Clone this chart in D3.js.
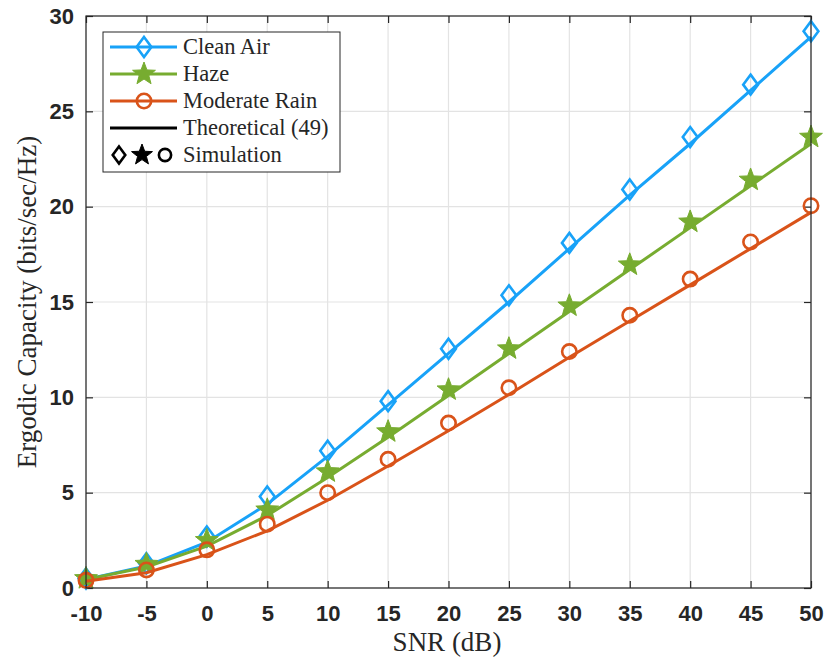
<!DOCTYPE html>
<html>
<head>
<meta charset="utf-8">
<script src="https://cdn.jsdelivr.net/npm/d3@7"></script>
<style>
  body { margin: 0; background: #fff; }
  .tick text { font-family: "Liberation Sans", Arial, sans-serif; font-weight: bold; font-size: 22px; fill: #262626; }
  .lbl { font-family: "Liberation Serif", "DejaVu Serif", serif; fill: #262626; }
</style>
</head>
<body>
<div class="chart"></div>
<script>
// SNR in dB
const snr = [-10, -5, 0, 5, 10, 15, 20, 25, 30, 35, 40, 45, 50];

// theoretical curves
const cleanTheory = [0.45, 1.15, 2.4, 4.4, 6.9, 9.6, 12.3, 15.0, 17.8, 20.6, 23.3, 26.1, 28.9];
const hazeTheory = [0.45, 1.1, 2.2, 3.8, 5.8, 7.9, 10.1, 12.3, 14.5, 16.7, 18.9, 21.1, 23.3];
const rainTheory = [0.35, 0.8, 1.75, 3.0, 4.6, 6.4, 8.25, 10.15, 12.1, 14.0, 15.9, 17.8, 19.7];

// simulation points
const cleanSim = [0.5, 1.3, 2.7, 4.8, 7.2, 9.8, 12.55, 15.35, 18.1, 20.9, 23.65, 26.4, 29.2];
const hazeSim = [0.5, 1.25, 2.5, 4.1, 6.1, 8.2, 10.4, 12.55, 14.8, 16.95, 19.2, 21.4, 23.65];
const rainSim = [0.4, 0.95, 2.0, 3.35, 5.0, 6.75, 8.65, 10.5, 12.4, 14.3, 16.2, 18.15, 20.05];

const xTicks = [-10, -5, 0, 5, 10, 15, 20, 25, 30, 35, 40, 45, 50];
const yTicks = [0, 5, 10, 15, 20, 25, 30];

const series = [
  {name: 'Clean Air', color: '#18a2f8', marker: 'diamond', theory: cleanTheory, sim: cleanSim},
  {name: 'Haze', color: '#77ac30', marker: 'star', theory: hazeTheory, sim: hazeSim},
  {name: 'Moderate Rain', color: '#d95319', marker: 'circle', theory: rainTheory, sim: rainSim}
];

const W = 827, H = 663;
const margin = {top: 16, right: 16, bottom: 75, left: 86};
const width = W - margin.left - margin.right;
const height = H - margin.top - margin.bottom;

const svg = d3.select('.chart').append('svg')
    .attr('width', W)
    .attr('height', H);
const g = svg.append('g')
    .attr('transform', `translate(${margin.left},${margin.top})`);

const x = d3.scaleLinear().domain([-10, 50]).range([0, width]);
const y = d3.scaleLinear().domain([0, 30]).range([height, 0]);

// grid
g.append('g').selectAll('line').data(xTicks).join('line')
    .attr('x1', d => x(d)).attr('x2', d => x(d))
    .attr('y1', 0).attr('y2', height)
    .attr('stroke', '#e3e3e3').attr('stroke-width', 1.2);
g.append('g').selectAll('line').data(yTicks).join('line')
    .attr('y1', d => y(d)).attr('y2', d => y(d))
    .attr('x1', 0).attr('x2', width)
    .attr('stroke', '#e3e3e3').attr('stroke-width', 1.2);

// axes (ticks pointing inward)
const styleAxis = function (sel) {
  sel.select('.domain').remove();
  sel.selectAll('.tick line').attr('stroke', '#262626').attr('stroke-width', 1.2);
};
const fmt = d => String(d);
g.append('g')
    .attr('transform', `translate(0,${height})`)
    .call(d3.axisBottom(x).tickValues(xTicks).tickSizeInner(-7).tickSizeOuter(0).tickPadding(17).tickFormat(fmt))
    .call(styleAxis);
g.append('g')
    .call(d3.axisTop(x).tickValues(xTicks).tickSizeInner(-7).tickSizeOuter(0).tickFormat(''))
    .call(styleAxis);
g.append('g')
    .call(d3.axisLeft(y).tickValues(yTicks).tickSizeInner(-7).tickSizeOuter(0).tickPadding(12).tickFormat(fmt))
    .call(styleAxis);
g.append('g')
    .attr('transform', `translate(${width},0)`)
    .call(d3.axisRight(y).tickValues(yTicks).tickSizeInner(-7).tickSizeOuter(0).tickFormat(''))
    .call(styleAxis);
g.selectAll('.tick text').attr('fill', '#262626');

const symbols = {
  diamond: function (s) {
    return `M0,${-s * 0.5}L${s * 0.37},0L0,${s * 0.5}L${-s * 0.37},0Z`;
  },
  star: function (s) {
    let p = [];
    for (let i = 0; i < 10; i++) {
      const r = i % 2 === 0 ? s * 0.5 : s * 0.21;
      const a = -Math.PI / 2 + i * Math.PI / 5;
      p.push([r * Math.cos(a), r * Math.sin(a)]);
    }
    return 'M' + p.map(d => d.join(',')).join('L') + 'Z';
  },
  circle: function (s) {
    const r = s * 0.36;
    return `M${r},0A${r},${r} 0 1,1 ${-r},0A${r},${r} 0 1,1 ${r},0Z`;
  }
};

const drawMarker = function (sel, type, color, s) {
  sel.attr('d', symbols[type](s))
    .attr('fill', type === 'star' ? color : 'none')
    .attr('stroke', color)
    .attr('stroke-width', type === 'star' ? 1 : 2.6)
    .attr('stroke-linejoin', 'miter');
};

const line = d3.line()
    .x((d, i) => x(snr[i]))
    .y(d => y(d));

const plot = g.append('g');
series.forEach(function (s) {
  plot.append('path')
      .datum(s.theory)
      .attr('d', line)
      .attr('fill', 'none')
      .attr('stroke', s.color)
      .attr('stroke-width', 3);
  plot.append('g').selectAll('path').data(s.sim).join('path')
      .attr('transform', (d, i) => `translate(${x(snr[i])},${y(d)})`)
      .call(drawMarker, s.marker, s.color, s.marker === 'star' ? 24 : 20);
});

// frame
g.append('rect')
    .attr('width', width).attr('height', height)
    .attr('fill', 'none').attr('stroke', '#262626').attr('stroke-width', 1.2);

// axis labels
svg.append('text').attr('class', 'lbl')
    .attr('x', 447).attr('y', 651)
    .attr('text-anchor', 'middle')
    .style('font-size', '27px')
    .text('SNR (dB)');
svg.append('text').attr('class', 'lbl')
    .attr('transform', `translate(36,${margin.top + height / 2}) rotate(-90)`)
    .attr('text-anchor', 'middle')
    .style('font-size', '27px')
    .text('Ergodic Capacity (bits/sec/Hz)');

// legend
const legend = svg.append('g').attr('transform', 'translate(103,32)');
legend.append('rect')
    .attr('width', 237).attr('height', 140)
    .attr('fill', '#fff').attr('stroke', '#262626').attr('stroke-width', 1);
const rowY = [15, 42, 69, 96, 123];
series.forEach(function (s, i) {
  legend.append('line')
      .attr('x1', 7).attr('x2', 74).attr('y1', rowY[i]).attr('y2', rowY[i])
      .attr('stroke', s.color).attr('stroke-width', 3);
  legend.append('path')
      .attr('transform', `translate(41,${rowY[i]})`)
      .call(drawMarker, s.marker, s.color, s.marker === 'star' ? 24 : 20);
  legend.append('text').attr('class', 'lbl')
      .attr('x', 80).attr('y', rowY[i] + 7)
      .style('font-size', '22.5px')
      .text(s.name);
});
legend.append('line')
    .attr('x1', 7).attr('x2', 74).attr('y1', rowY[3]).attr('y2', rowY[3])
    .attr('stroke', '#000').attr('stroke-width', 3);
legend.append('text').attr('class', 'lbl')
    .attr('x', 80).attr('y', rowY[3] + 7)
    .style('font-size', '22.5px')
    .text('Theoretical (49)');
['diamond', 'star', 'circle'].forEach(function (m, i) {
  legend.append('path')
      .attr('transform', `translate(${16 + i * 23},${rowY[4]})`)
      .call(drawMarker, m, '#000', m === 'star' ? 22 : 17);
});
legend.append('text').attr('class', 'lbl')
    .attr('x', 80).attr('y', rowY[4] + 7)
    .style('font-size', '22.5px')
    .text('Simulation');
</script>
</body>
</html>
